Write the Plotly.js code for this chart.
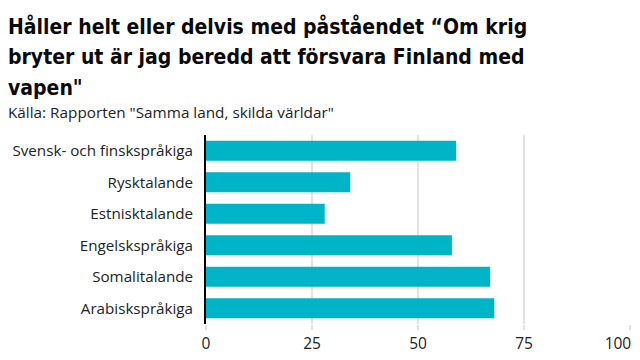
<!DOCTYPE html>
<html><head><meta charset="utf-8">
<script src="https://cdn.plot.ly/plotly-3.0.1.min.js"></script>
<style>body{margin:0;padding:0;background:#fff}#c{width:640px;height:360px}</style>
</head><body><div id="c"></div>
<script>
const categories = ["Svensk- och finskspråkiga","Rysktalande","Estnisktalande","Engelskspråkiga","Somalitalande","Arabiskspråkiga"];
const values = [59, 34, 28, 58, 67, 68];
const tickVals = [0, 25, 50, 75, 100];
const tickText = ["0", "25", "50", "75", "100\u00a0\u00a0\u00a0\u00a0\u00a0\u00a0"];
const titleLines = ['Håller helt eller delvis med påståendet “Om krig', 'bryter ut är jag beredd att försvara Finland med', 'vapen"'];
const subtitle = 'Källa: Rapporten "Samma land, skilda världar"';

const titleFont = "'DejaVu Sans Condensed', 'DejaVu Sans', sans-serif";
const bodyFont = "'Open Sans', 'Noto Sans', sans-serif";

const data = [{
  type: 'bar', orientation: 'h',
  x: values, y: categories,
  marker: {color: '#00b4c8'},
  hoverinfo: 'none'
}];

const py = p => 1 + (135 - p) / 189;
const px = p => (p - 206) / 424;
const lineTops = [12, 43, 74];

const annotations = titleLines.map((t, i) => ({
  xref: 'paper', yref: 'paper', x: px(6), y: py(lineTops[i]), xanchor: 'left', yanchor: 'top', align: 'left',
  showarrow: false, text: t,
  font: {family: titleFont, size: 21, color: '#0a0a0a', weight: 700}
}));
annotations.push({xref: 'paper', yref: 'paper', x: px(6), y: py(100), xanchor: 'left', yanchor: 'top', align: 'left',
  showarrow: false, text: subtitle,
  font: {family: bodyFont, size: 15.3, color: '#222'}});

const layout = {
  width: 640, height: 360,
  margin: {l: 206, r: 10, t: 135, b: 36},
  paper_bgcolor: '#fff', plot_bgcolor: '#fff',
  bargap: 0.36,
  showlegend: false,
  xaxis: {
    range: [0, 100], tickvals: tickVals, ticktext: tickText,
    showgrid: true, gridcolor: '#e2e2e2', gridwidth: 2,
    zeroline: false, showline: false,
    ticks: 'outside', ticklen: 5, tickwidth: 2, tickcolor: '#e2e2e2',
    ticklabeloverflow: 'allow',
    tickfont: {family: bodyFont, size: 15.5, color: '#222'},
    fixedrange: true
  },
  yaxis: {
    autorange: 'reversed', type: 'category',
    showline: true, linecolor: '#000', linewidth: 2,
    showgrid: false, zeroline: false, ticks: '',
    ticksuffix: '  ',
    tickfont: {family: bodyFont, size: 15.2, color: '#222'},
    fixedrange: true
  },
  annotations: annotations
};
Plotly.newPlot('c', data, layout, {displayModeBar: false, staticPlot: true});
</script></body></html>
